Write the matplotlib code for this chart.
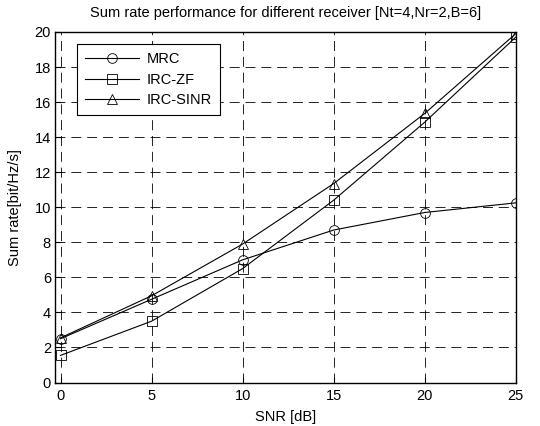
import matplotlib
matplotlib.use("Agg")
import matplotlib.pyplot as plt

plt.rcParams["font.family"] = ["Liberation Sans", "DejaVu Sans"]

snr_db = [0, 5, 10, 15, 20, 25]
mrc = [2.5, 4.75, 7.0, 8.7, 9.7, 10.25]
irc_zf = [1.55, 3.5, 6.5, 10.4, 14.85, 19.7]
irc_sinr = [2.55, 4.95, 7.9, 11.35, 15.35, 19.9]

series = [
    ("MRC", mrc, "o"),
    ("IRC-ZF", irc_zf, "s"),
    ("IRC-SINR", irc_sinr, "^"),
]

fig = plt.figure(figsize=(5.4, 4.26), dpi=100)
ax = fig.add_axes([0.102, 0.102, 0.853, 0.823])

for name, vals, mk in series:
    ax.plot(snr_db, vals, color="black", linewidth=0.8, marker=mk,
            markersize=7, markerfacecolor="none", markeredgecolor="black",
            markeredgewidth=0.6, label=name)

ax.set_xlim(-0.3, 25)
ax.set_ylim(0, 20)
ax.set_xticks([0, 5, 10, 15, 20, 25])
ax.set_yticks(range(0, 21, 2))
ax.tick_params(direction="in", labelsize=10.5, length=4, width=0.8, pad=3)
ax.tick_params(axis="x", pad=5)
ax.grid(True, color="black", linestyle=(0, (12, 7)), linewidth=0.6)
for sp in ax.spines.values():
    sp.set_linewidth(1.0)

ax.set_xlabel("SNR [dB]", fontsize=10.5, labelpad=5)
ax.set_ylabel("Sum rate[bit/Hz/s]", fontsize=10.5, labelpad=9)
ax.set_title("Sum rate performance for different receiver [Nt=4,Nr=2,B=6]",
             fontsize=10.5, pad=11)

leg = ax.legend(loc="upper left", bbox_to_anchor=(0.048, 0.965), fontsize=10.5,
                borderaxespad=0, fancybox=False, framealpha=1,
                edgecolor="black", handlelength=3.7, handletextpad=0.5,
                borderpad=0.55, labelspacing=0.45)
leg.get_frame().set_linewidth(0.8)

fig.savefig("out.png", dpi=100)
